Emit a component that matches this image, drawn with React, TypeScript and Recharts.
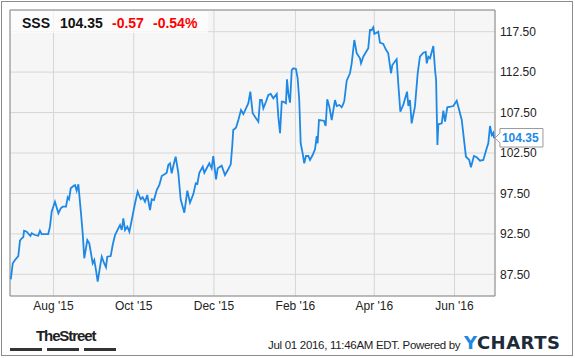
import { CartesianGrid, Line, LineChart, ReferenceArea, ReferenceDot, XAxis, YAxis } from "recharts"

// days counted from Jul 1 2015
const days = [
  -1.5, 0, 1.7, 4.2, 5.5, 6.8, 8.0, 8.6, 10.6, 13.4, 14.4, 16.9, 19.4, 20.7, 22.0, 27.0, 28.3, 29.6, 32.1, 34.7,
  36.5, 38.0, 40.5, 41.8, 42.8, 44.1, 46.1, 47.4, 48.6, 49.9, 51.9, 53.2, 54.4, 56.7, 58.2, 60.8, 62.0, 63.3, 64.6, 66.4,
  67.7, 69.4, 70.9, 71.9, 74.5, 76.0, 77.8, 80.3, 81.6, 82.9, 84.1, 85.4, 87.1, 88.7, 90.5, 93.0, 95.0, 96.3, 97.3, 98.8,
  100.6, 102.3, 104.4, 105.7, 107.4, 109.5, 111.5, 113.3, 115.8, 117.1, 118.3, 119.6, 120.9, 122.1, 123.9, 125.9, 127.7, 130.5, 132.8, 134.8,
  137.3, 139.2, 140.4, 141.9, 144.5, 145.7, 147.5, 149.5, 151.3, 152.5, 154.6, 155.9, 158.9, 161.4, 163.9, 165.8, 167.0, 167.7, 169.8, 171.6,
  173.6, 175.4, 177.4, 179.2, 180.7, 182.5, 185.0, 186.8, 188.1, 189.4, 190.6, 192.6, 194.4, 196.2, 198.2, 200.8, 202.0, 203.3, 204.6, 205.8,
  207.8, 208.6, 209.6, 210.9, 212.2, 213.4, 215.4, 216.7, 217.9, 219.0, 220.5, 221.7, 223.0, 224.8, 226.1, 228.1, 229.9, 231.2, 231.9, 232.9,
  236.7, 238.0, 239.2, 240.8, 242.6, 245.1, 246.4, 248.4, 250.2, 251.4, 252.2, 254.0, 256.5, 257.8, 259.8, 261.6, 264.1, 264.9, 266.6, 270.4,
  271.7, 273.0, 274.2, 275.0, 276.8, 278.0, 279.3, 281.8, 283.7, 285.6, 287.7, 288.7, 292.0, 293.2, 294.8, 297.0, 299.9, 300.9, 302.1, 303.4,
  305.9, 308.0, 309.7, 312.3, 314.1, 314.9, 316.1, 317.4, 319.9, 321.2, 322.0, 323.0, 323.7, 326.3, 327.5, 328.8, 330.5, 335.1, 337.7, 338.9,
  341.5, 344.7, 347.2, 348.5, 350.8, 352.9, 355.4, 357.9, 360.5, 361.7, 363.0, 364.3, 365.5, 366,
]

const prices = [
  86.88, 88.86, 89.27, 89.76, 91.66, 91.95, 92.08, 92.89, 92.77, 92.24, 92.57, 92.36, 92.27, 92.89, 92.48, 92.48, 93.39, 95.24, 96.48, 95.04,
  95.66, 95.86, 95.86, 97.02, 96.78, 98.14, 98.42, 98.54, 97.84, 98.63, 95.04, 92.57, 89.48, 91.74, 91.33, 88.86, 89.27, 88.03, 86.59, 88.44,
  89.68, 88.9, 88.37, 89.68, 89.76, 91.12, 92.36, 93.19, 93.6, 92.98, 94.43, 92.98, 93.39, 92.77, 94.22, 96.28, 97.72, 97.18, 96.78, 97.02,
  96.48, 97.31, 95.45, 96.78, 96.69, 97.93, 98.54, 99.66, 99.9, 100.06, 101.02, 101.23, 99.99, 100.89, 102.04, 100.06, 96.78, 95.12, 97.84, 96.36,
  97.39, 98.75, 98.67, 100.06, 100.81, 100.06, 100.61, 101.23, 100.61, 102.13, 99.25, 100.61, 100.93, 99.78, 100.49, 101.1, 103.49, 105.34, 105.63, 106.58,
  107.82, 107.32, 108.03, 108.65, 110.08, 107.41, 106.79, 106.37, 109.05, 109.05, 108.03, 108.84, 109.67, 109.8, 109.26, 109.8, 106.99, 104.94, 108.84, 108.84,
  108.65, 111.61, 109.88, 108.72, 112.76, 112.97, 112.89, 111.74, 109.05, 103.7, 102.46, 101.23, 102.13, 102.13, 101.64, 102.25, 102.96, 104.6, 103.7, 106.58,
  106.49, 105.84, 109.14, 108.23, 106.58, 109.05, 108.31, 108.44, 108.15, 108.56, 108.97, 111.44, 112.36, 113.59, 116.47, 114.83, 114.21, 113.59, 114.41, 115.45,
  117.71, 117.71, 118.04, 117.22, 117.38, 117.5, 116.14, 115.98, 115.32, 114.83, 112.36, 113.38, 114.09, 111.12, 107.61, 108.44, 110.08, 108.31, 109.05, 106.17,
  108.23, 112.36, 114.41, 114.9, 114.99, 113.59, 114.41, 114.21, 115.73, 112.76, 111.53, 103.49, 106.05, 106.17, 107.73, 106.37, 108.15, 108.31, 108.97, 108.23,
  106.58, 102.04, 101.64, 100.73, 102.13, 101.97, 101.55, 101.64, 103.08, 103.7, 105.84, 104.73, 105.01, 104.35,
]

const monthTicks = [31, 92, 153, 215, 275, 336]
const monthLabels = ["Aug '15", "Oct '15", "Dec '15", "Feb '16", "Apr '16", "Jun '16"]
const priceTicks = [87.5, 92.5, 97.5, 102.5, 107.5, 112.5, 117.5]

const ticker = "SSS"
const lastPrice = 104.35
const change = "-0.57"
const changePct = "-0.54%"

const data = days.map((d, i) => ({ day: d, price: prices[i] }))

const xDomain = [-2.1, 366.8]
const yDomain = [84.82, 120.18]
const font = "Arial, 'Liberation Sans', sans-serif"
const blue = "#1e88e5"

const LastLabel = (props: any) => {
  const { cx, cy } = props
  return (
    <g>
      <path
        d={`M${cx + 1},${cy} L${cx + 6},${cy - 5} L${cx + 6},${cy - 9.5} L${cx + 49},${cy - 9.5} L${cx + 49},${cy + 9} L${cx + 6},${cy + 9} L${cx + 6},${cy + 5} Z`}
        fill="#fff"
        stroke="#999"
      />
      <text x={cx + 8} y={cy} dy="0.36em" fill={blue} fontSize={12} fontWeight="bold" fontFamily={font}>
        {lastPrice.toFixed(2)}
      </text>
    </g>
  )
}

export default function App() {
  return (
    <div style={{ position: "absolute", left: 0, top: 0, width: 575, height: 358, background: "#fff", fontFamily: font }}>
      <div style={{ position: "absolute", left: 1, top: 1, width: 572, height: 355, border: "1px solid #8c8c8c", boxSizing: "border-box" }} />
      <LineChart width={575} height={358} data={data} margin={{ top: 10, right: 1, left: 10, bottom: 32 }}>
        <CartesianGrid fill="#f6f6f6" stroke="#d6d6d6" />
        <XAxis
          dataKey="day"
          type="number"
          domain={xDomain}
          allowDataOverflow
          ticks={monthTicks}
          tickFormatter={(v) => monthLabels[monthTicks.indexOf(v)]}
          axisLine={false}
          tickLine={false}
          tickSize={0}
          tickMargin={5}
          height={30}
          tick={{ fontSize: 12, fill: "#222", fontFamily: font }}
        />
        <YAxis
          orientation="right"
          type="number"
          domain={yDomain}
          allowDataOverflow
          ticks={priceTicks}
          tickFormatter={(v) => v.toFixed(2)}
          axisLine={false}
          tickLine={false}
          tickSize={0}
          tickMargin={5}
          width={79}
          tick={{ fontSize: 12, fill: "#222", fontFamily: font, textAnchor: "start" }}
        />
        <Line type="linear" dataKey="price" stroke={blue} strokeWidth={1.8} dot={false} isAnimationActive={false} />
        <ReferenceArea x1={xDomain[0]} x2={xDomain[1]} y1={yDomain[0]} y2={yDomain[1]} fill="none" stroke="#8c8c8c" ifOverflow="visible" />
        <ReferenceDot x={days[days.length - 1]} y={lastPrice} r={0} ifOverflow="visible" shape={LastLabel} />
      </LineChart>

      <div style={{ position: "absolute", left: 11, top: 11, width: 197, height: 22, background: "rgba(255,255,255,0.7)" }} />
      <div style={{ position: "absolute", left: 0, top: 15, fontSize: 14, fontWeight: "bold", lineHeight: "16px", whiteSpace: "nowrap" }}>
        <span style={{ position: "absolute", left: 22, color: "#111" }}>{ticker}</span>
        <span style={{ position: "absolute", left: 60, color: "#111" }}>{lastPrice.toFixed(2)}</span>
        <span style={{ position: "absolute", left: 112, color: "#f00" }}>{change}</span>
        <span style={{ position: "absolute", left: 153, color: "#f00" }}>{changePct}</span>
      </div>

      <div style={{ position: "absolute", left: 36, top: 327, fontSize: 15, fontWeight: "bold", letterSpacing: -1.1, fontFamily: "'Liberation Sans Narrow', Arial, sans-serif", color: "#222", lineHeight: "17px" }}>
        TheStreet
      </div>
      <div style={{ position: "absolute", left: 10, top: 348, width: 32, height: 3, background: "#333" }} />
      <div style={{ position: "absolute", left: 47, top: 348, width: 32, height: 3, background: "#333" }} />
      <div style={{ position: "absolute", left: 84, top: 348, width: 32, height: 3, background: "#333" }} />

      <div style={{ position: "absolute", left: 268, top: 338, fontSize: 11.5, letterSpacing: -0.3, color: "#222", whiteSpace: "nowrap", lineHeight: "14px" }}>
        Jul 01 2016, 11:46AM EDT. Powered by
      </div>
      <div style={{ position: "absolute", left: 464, top: 333, fontSize: 18, fontWeight: "bold", fontFamily: "'DejaVu Sans', Arial, sans-serif", letterSpacing: 0.5, lineHeight: "20px", whiteSpace: "nowrap" }}>
        <span style={{ color: blue }}>Y</span>
        <span style={{ color: "#1d2a38" }}>CHARTS</span>
      </div>
    </div>
  )
}
